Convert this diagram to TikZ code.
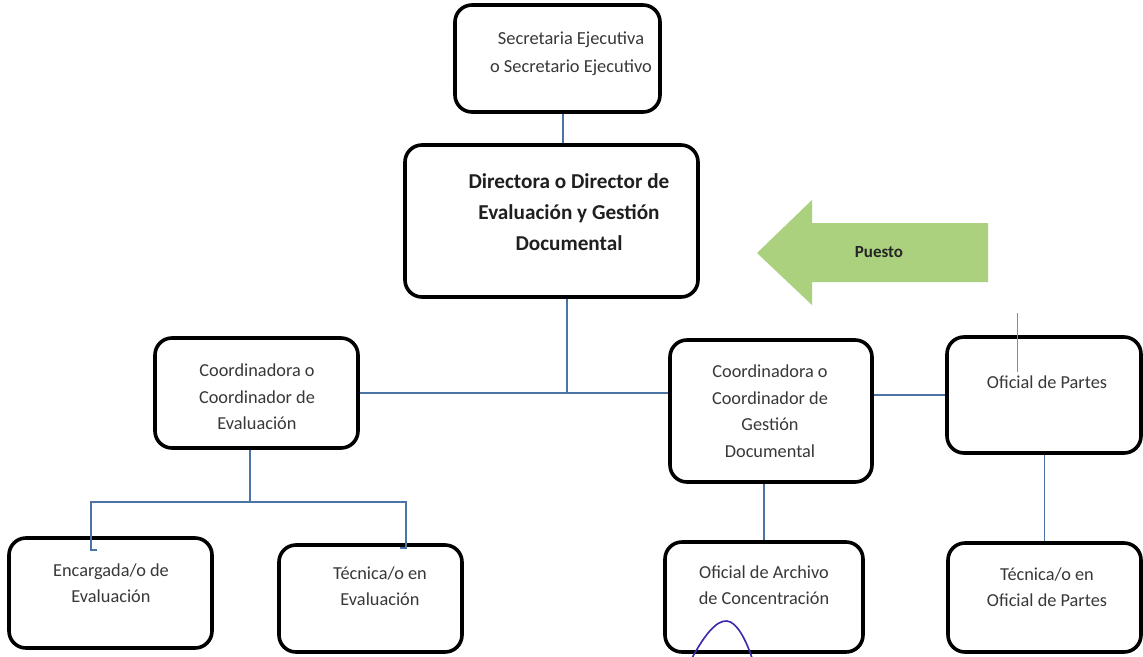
\documentclass[tikz,border=0pt]{standalone}
\usepackage{fontspec}
\setmainfont{Carlito}
\definecolor{connblue}{RGB}{75,115,165}
\definecolor{arrowgreen}{RGB}{172,209,126}
\definecolor{scribble}{RGB}{60,40,170}
\begin{document}
\begin{tikzpicture}[x=1pt,y=-1pt,
  box/.style={draw=black,line width=3.6pt,rounded corners=17pt,inner sep=0pt},
  txt/.style={align=center,font=\fontsize{18.3}{26.5}\selectfont,text=black!78},
  conn/.style={draw=connblue,line width=1.5pt}]
\useasboundingbox (0,0) rectangle (1143,656);
\fill[white] (0,0) rectangle (1143,656);
% boxes
\node[box,minimum width=205pt,minimum height=107pt] (sec) at (557.5,58.5) {};
\node[box,minimum width=293pt,minimum height=152pt] (dir) at (551.5,221) {};
\node[box,minimum width=203pt,minimum height=110pt] (ce) at (256.5,393) {};
\node[box,minimum width=203pt,minimum height=110pt] (enc) at (110.5,593) {};
\node[box,minimum width=183pt,minimum height=107pt] (tev) at (370.5,598.5) {};
\node[box,minimum width=202pt,minimum height=142pt] (cgd) at (771,411) {};
\node[box,minimum width=194pt,minimum height=116pt] (op) at (1044,395) {};
\node[box,minimum width=198pt,minimum height=110pt] (oac) at (764,597) {};
\node[box,minimum width=193pt,minimum height=109pt] (tp) at (1044.5,597.5) {};
% texts
\node[txt,font=\fontsize{18.4}{28}\selectfont] (tsec) at (571,54) {Secretaria Ejecutiva\\o Secretario Ejecutivo};
\node[txt,font=\bfseries\fontsize{21.2}{31}\selectfont,text=black!88] (tdir) at (569,212) {Directora o Director de\\Evaluación y Gestión\\Documental};
\node[txt] (tce) at (257,397) {Coordinadora o\\Coordinador de\\Evaluación};
\node[txt] (tenc) at (111,583) {Encargada/o de\\Evaluación};
\node[txt] (ttev) at (380,586) {Técnica/o en\\Evaluación};
\node[txt] (tcgd) at (770,411) {Coordinadora o\\Coordinador de\\Gestión\\Documental};
\node[txt] (top) at (1047,382) {Oficial de Partes};
\node[txt] (toac) at (764,585) {Oficial de Archivo\\de Concentración};
\node[txt] (ttp) at (1047,587) {Técnica/o en\\Oficial de Partes};
% arrow Puesto
\fill[arrowgreen] (757,253) -- (812,200) -- (812,223) -- (988,223) -- (988,282) -- (812,282) -- (812,305) -- cycle;
\node[font=\bfseries\fontsize{17}{18}\selectfont,text=black!85] (puesto) at (879,252) {Puesto};
% coordinates
\coordinate (xa) at (563,0);
\coordinate (xb) at (567,0);
\coordinate (j1) at (250,502);
\coordinate (l1) at (91,502);
\coordinate (r1) at (406,502);
% connectors
\draw[conn] (sec.south -| xa) -- (dir.north -| xa);
\draw[conn] (dir.south -| xb) -- (xb |- ce.east);
\draw[conn] (ce.east) -- (ce.east -| cgd.west);
\draw[conn] (ce.south -| j1) -- (j1);
\draw[conn] (l1) ++(6,48) -- ++(-6,0) -- (l1) -- (r1) -- ++(0,46) -- ++(-6,0);
\draw[conn] (op.west -| cgd.east) -- (op.west);
\draw[conn] (oac.north |- cgd.south) -- (oac.north);
\draw[conn] (tp.north |- op.south) -- (tp.north);
% stray marks
\draw[black!45,line width=0.6pt] (1017,313) -- (1017,372);
\draw[scribble,line width=1.6pt] (692,658) .. controls (704,636) and (716,620) .. (727,621) .. controls (737,622) and (746,640) .. (752,658);
\end{tikzpicture}
\end{document}
